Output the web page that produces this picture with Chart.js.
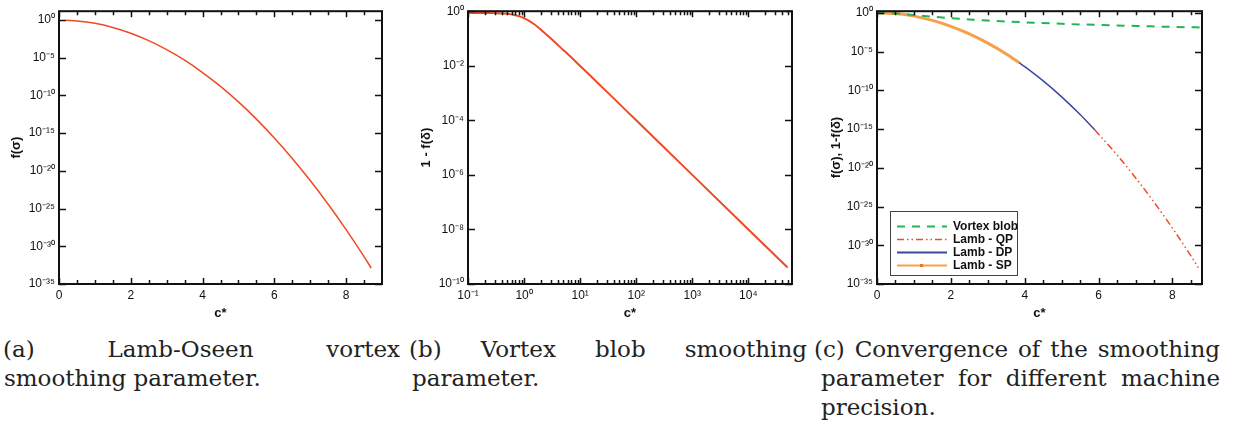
<!DOCTYPE html>
<html>
<head>
<meta charset="utf-8">
<script src="https://cdn.jsdelivr.net/npm/chart.js@4.4.1/dist/chart.umd.min.js"></script>
<style>
  body { margin: 0; background: #fff; }
  #page { position: relative; width: 1233px; height: 424px; overflow: hidden; background: #fff; }
  canvas { position: absolute; top: 0; }
  .cap { position: absolute; font-family: "DejaVu Serif", serif; font-size: 23px; line-height: 29px; color: #222; }
  .cap div { white-space: nowrap; }
  .cap .j { text-align: justify; text-align-last: justify; }
  #legendC { position: absolute; left: 890px; top: 211px; width: 126px; height: 63px; border: 1.5px solid #444; background: #fff;
             font: bold 12px "Liberation Sans", Arial, sans-serif; color: #111; }
  #legendC .row { position: absolute; left: 0; height: 13px; line-height: 13px; }
  #legendC svg { position: absolute; left: 6px; top: 0; }
  #legendC span { position: absolute; left: 62px; top: 0; white-space: nowrap; }
</style>
</head>
<body>
<div id="page">
  <canvas id="chartA" width="400" height="322" style="left:0px"></canvas>
  <canvas id="chartB" width="400" height="322" style="left:410px"></canvas>
  <canvas id="chartC" width="400" height="322" style="left:820px"></canvas>

  <div id="legendC">
    <div class="row" style="top:8px"><svg width="50" height="13"><line x1="0" y1="6.5" x2="50" y2="6.5" stroke="#22b455" stroke-width="2" stroke-dasharray="8 7"/></svg><span>Vortex blob</span></div>
    <div class="row" style="top:21px"><svg width="50" height="13"><line x1="0" y1="6.5" x2="50" y2="6.5" stroke="#f04a24" stroke-width="1.5" stroke-dasharray="7 3 1.5 3 1.5 3"/></svg><span>Lamb - QP</span></div>
    <div class="row" style="top:34px"><svg width="50" height="13"><line x1="0" y1="6.5" x2="50" y2="6.5" stroke="#3b4a9c" stroke-width="2"/></svg><span>Lamb - DP</span></div>
    <div class="row" style="top:47px"><svg width="50" height="13"><line x1="0" y1="6.5" x2="50" y2="6.5" stroke="#f5a04a" stroke-width="2"/><rect x="23" y="5" width="3" height="3" fill="#e07a20"/></svg><span>Lamb - SP</span></div>
  </div>

  <div class="cap" style="left:3px; top:335px; width:397px">
    <div class="j">(a) Lamb-Oseen vortex</div>
    <div style="padding-left:1px">smoothing parameter.</div>
  </div>
  <div class="cap" style="left:409px; top:335px; width:398px">
    <div class="j">(b) Vortex blob smoothing</div>
    <div style="padding-left:3px">parameter.</div>
  </div>
  <div class="cap" style="left:814px; top:335px; width:406px">
    <div class="j">(c) Convergence of the smoothing</div>
    <div class="j" style="padding-left:7px">parameter for different machine</div>
    <div style="padding-left:7px">precision.</div>
  </div>
</div>

<script>
// (a) Lamb-Oseen vortex smoothing parameter
const lambC = [0.2, 0.5, 1, 1.5, 2, 2.5, 3, 3.5, 4, 4.5, 5, 5.5, 6, 6.5, 7, 7.5, 8, 8.5, 8.7];
const lambF = [0.96, 0.78, 0.37, 0.105, 1.8e-2, 1.9e-3, 1.2e-4, 4.8e-6, 1.1e-7, 1.6e-9, 1.4e-11,
               7.3e-14, 2.3e-16, 4.5e-19, 5.2e-22, 3.7e-25, 1.6e-28, 4.2e-32, 1.3e-33];

// (b) vortex blob smoothing parameter, 1 - f(delta)
const blobC = [0.1, 0.2, 0.3, 0.5, 0.7, 1, 1.5, 2, 3, 5, 7, 10, 20, 50, 100, 1000, 10000, 50000];
const blobF = [0.87, 0.86, 0.85, 0.8, 0.71, 0.56, 0.34, 0.21, 0.1, 0.038, 0.02, 0.0098, 2.5e-3,
               4.0e-4, 1.0e-4, 1.0e-6, 1.0e-8, 4.0e-10];

// (c) convergence for different machine precision
const vortexC = [0, 0.5, 1, 1.5, 2, 2.5, 3, 4, 5, 6, 7, 8, 8.8];
const vortexF = [1, 0.8, 0.5, 0.31, 0.2, 0.14, 0.1, 0.059, 0.038, 0.027, 0.02, 0.015, 0.0127];
const spC = [0, 0.5, 1, 1.5, 2, 2.5, 3, 3.5, 3.85];
const spF = [1, 0.78, 0.37, 0.105, 1.8e-2, 1.9e-3, 1.2e-4, 4.8e-6, 3.6e-7];
const dpC = [3.85, 4, 4.5, 5, 5.5, 5.9];
const dpF = [3.6e-7, 1.1e-7, 1.6e-9, 1.4e-11, 7.3e-14, 7.4e-16];
const qpC = [5.9, 6.5, 7, 7.5, 8, 8.5, 8.7];
const qpF = [7.4e-16, 4.5e-19, 5.2e-22, 3.7e-25, 1.6e-28, 4.2e-32, 1.3e-33];

// ticks
const linTicks = [0, 2, 4, 6, 8];
const linMinor = [0.5, 1, 1.5, 2.5, 3, 3.5, 4.5, 5, 5.5, 6.5, 7, 7.5, 8.5];
const lambExp = [0, -5, -10, -15, -20, -25, -30, -35];
const blobYExp = [0, -2, -4, -6, -8, -10];
const blobXExp = [-1, 0, 1, 2, 3, 4];

const RED = '#f04a24', GREEN = '#22b455', BLUE = '#3b4a9c', ORANGE = '#f5a04a';
const SUP = { '-': '⁻', '0': '⁰', '1': '¹', '2': '²', '3': '³', '4': '⁴', '5': '⁵', '6': '⁶', '7': '⁷', '8': '⁸', '9': '⁹' };
const pow10Label = v => '10' + String(Math.round(Math.log10(v))).split('').map(ch => SUP[ch]).join('');
const pts = (xs, ys) => xs.map((x, i) => ({ x: x, y: ys[i] }));

const tickFont = { family: '"Liberation Sans", Arial, sans-serif', size: 12 };
const titleFont = { family: '"Liberation Sans", Arial, sans-serif', size: 13, weight: 'bold' };

// box around the plot with inward ticks on all four sides
const framePlugin = {
  id: 'frame',
  afterDatasetsDraw(chart, args, opts) {
    const { ctx, chartArea: a } = chart;
    const x = chart.scales.x, y = chart.scales.y;
    ctx.save();
    ctx.strokeStyle = '#111';
    ctx.lineWidth = 1.5;
    ctx.beginPath();
    const xt = (vals, len) => vals.forEach(v => {
      const px = Math.round(x.getPixelForValue(v)) + 0.5;
      ctx.moveTo(px, a.bottom); ctx.lineTo(px, a.bottom - len);
      ctx.moveTo(px, a.top); ctx.lineTo(px, a.top + len);
    });
    const yt = (vals, len) => vals.forEach(v => {
      const py = Math.round(y.getPixelForValue(v)) + 0.5;
      ctx.moveTo(a.left, py); ctx.lineTo(a.left + len, py);
      ctx.moveTo(a.right, py); ctx.lineTo(a.right - len, py);
    });
    xt(opts.xMajor || [], 6);
    xt(opts.xMinor || [], 4);
    yt(opts.yMajor || [], 7);
    ctx.stroke();
    ctx.lineWidth = 2;
    ctx.strokeRect(a.left, a.top, a.width, a.height);
    ctx.restore();
  }
};

function makeChart(id, datasets, cfg) {
  return new Chart(document.getElementById(id), {
    type: 'line',
    data: { datasets: datasets },
    options: {
      responsive: false,
      animation: false,
      events: [],
      layout: { padding: { top: cfg.top, right: 18, left: 0, bottom: 0 } },
      elements: { point: { radius: 0 }, line: { cubicInterpolationMode: 'monotone' } },
      plugins: {
        legend: { display: false },
        tooltip: { enabled: false },
        frame: { xMajor: cfg.xMajor, xMinor: cfg.xMinor, yMajor: cfg.yTicks }
      },
      scales: {
        x: {
          type: cfg.xType, min: cfg.xMin, max: cfg.xMax,
          grid: { display: false, drawTicks: false }, border: { display: false },
          afterBuildTicks: s => { s.ticks = cfg.xMajor.map(v => ({ value: v })); },
          afterFit: s => { s.height = 38; },
          ticks: { font: tickFont, color: '#111', padding: 4, maxRotation: 0, autoSkip: false,
                   callback: cfg.xType === 'logarithmic' ? v => pow10Label(v) : v => String(v) },
          title: { display: true, text: 'c*', font: titleFont, color: '#111', padding: { top: 0, bottom: 1 } }
        },
        y: {
          type: 'logarithmic', min: cfg.yMin, max: cfg.yMax,
          grid: { display: false, drawTicks: false }, border: { display: false },
          afterBuildTicks: s => { s.ticks = cfg.yTicks.map(v => ({ value: v })); },
          afterFit: s => { s.width = cfg.yWidth; },
          ticks: { font: tickFont, color: '#111', padding: 4, autoSkip: false, callback: v => pow10Label(v) },
          title: { display: true, text: cfg.yTitle, font: titleFont, color: '#111', padding: { top: 9, bottom: 0 } }
        }
      }
    },
    plugins: [framePlugin]
  });
}

makeChart('chartA', [
  { data: pts(lambC, lambF), borderColor: RED, borderWidth: 1.5 }
], {
  top: 8, yWidth: 59, xType: 'linear', xMin: 0, xMax: 9,
  xMajor: linTicks, xMinor: linMinor,
  yMin: 1e-35, yMax: 15, yTicks: lambExp.map(e => Math.pow(10, e)), yTitle: 'f(σ)'
});

const blobMinor = [];
blobXExp.forEach(e => { for (let m = 2; m <= 9; m++) { const v = m * Math.pow(10, e); if (v < 6e4) blobMinor.push(v); } });

makeChart('chartB', [
  { data: pts(blobC, blobF), borderColor: RED, borderWidth: 2 }
], {
  top: 9, yWidth: 58, xType: 'logarithmic', xMin: 0.1, xMax: 6e4,
  xMajor: blobXExp.map(e => Math.pow(10, e)), xMinor: blobMinor,
  yMin: 1e-10, yMax: 1, yTicks: blobYExp.map(e => Math.pow(10, e)), yTitle: '1 - f(δ)'
});

makeChart('chartC', [
  { data: pts(vortexC, vortexF), borderColor: GREEN, borderWidth: 2, borderDash: [8, 7] },
  { data: pts(qpC, qpF), borderColor: RED, borderWidth: 1.5, borderDash: [7, 3, 1.5, 3, 1.5, 3] },
  { data: pts(dpC, dpF), borderColor: BLUE, borderWidth: 1.5 },
  { data: pts(spC, spF), borderColor: ORANGE, borderWidth: 3 }
], {
  top: 8, yWidth: 57, xType: 'linear', xMin: 0, xMax: 8.8,
  xMajor: linTicks, xMinor: linMinor,
  yMin: 1e-35, yMax: 1.6, yTicks: lambExp.map(e => Math.pow(10, e)), yTitle: 'f(σ), 1-f(δ)'
});
</script>
</body>
</html>
